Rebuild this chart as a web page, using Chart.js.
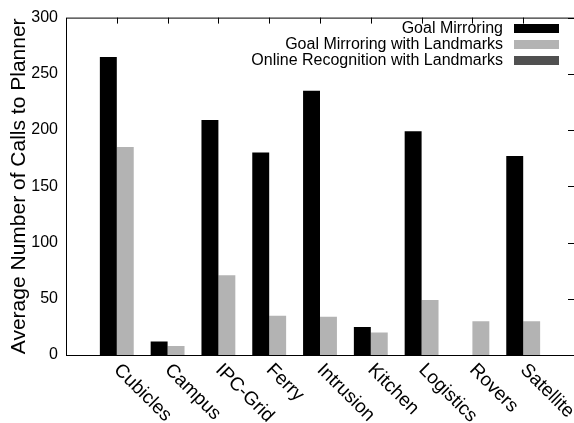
<!DOCTYPE html>
<html lang="en">
<head>
    <meta charset="UTF-8">
    <title>Average Number of Calls to Planner</title>
    <script src="https://cdn.jsdelivr.net/npm/chart.js"></script>
    <style>
        body {
            margin: 0;
            background-color: #fff;
        }
        #wrap {
            width: 574px;
            height: 423px;
        }
    </style>
</head>
<body>
    <div id="wrap"><canvas id="callsChart"></canvas></div>
    <script>
        // domains on the x axis
        const domains = ['Cubicles', 'Campus', 'IPC-Grid', 'Ferry', 'Intrusion', 'Kitchen', 'Logistics', 'Rovers', 'Satellite'];

        // average number of calls to the planner
        const goalMirroring = [265, 12, 209, 180, 235, 25, 199, 0, 177];
        const goalMirroringLandmarks = [185, 8, 71, 35, 34, 20, 49, 30, 30];
        const onlineRecognitionLandmarks = [0, 0, 0, 0, 0, 0, 0, 0, 0];

        const seriesNames = ['Goal Mirroring', 'Goal Mirroring with Landmarks', 'Online Recognition with Landmarks'];
        const seriesColors = ['#000000', '#b3b3b3', '#505050'];

        const yTicks = [0, 50, 100, 150, 200, 250, 300];

        // gnuplot puts the domain tic a sixth of a cluster left of its centre
        const ticShift = -1 / 6;

        const font = "'Liberation Sans', Arial, sans-serif";

        function toPoints(values) {
            return values.map((v, i) => ({ x: i, y: v }));
        }

        // frame, inner tics, rotated domain names and the legend, gnuplot style
        const gnuplotLook = {
            id: 'gnuplotLook',
            afterDraw(chart) {
                const ctx = chart.ctx;
                const area = chart.chartArea;
                const xs = chart.scales.x;
                const ys = chart.scales.y;

                ctx.save();
                ctx.strokeStyle = '#000';
                ctx.lineWidth = 1;
                ctx.strokeRect(area.left + 0.5, area.top + 0.5, area.right - area.left, area.bottom - area.top);

                ctx.beginPath();
                domains.forEach((d, i) => {
                    const px = Math.round(xs.getPixelForValue(i + ticShift)) + 0.5;
                    ctx.moveTo(px, area.top);
                    ctx.lineTo(px, area.top + 6);
                });
                yTicks.forEach(t => {
                    const py = Math.round(ys.getPixelForValue(t)) + 0.5;
                    ctx.moveTo(area.right, py);
                    ctx.lineTo(area.right - 6, py);
                });
                ctx.stroke();

                // domain names, turned 45 degrees clockwise
                ctx.fillStyle = '#000';
                ctx.font = '19px ' + font;
                ctx.textAlign = 'left';
                ctx.textBaseline = 'middle';
                domains.forEach((d, i) => {
                    const px = xs.getPixelForValue(i + ticShift);
                    ctx.save();
                    ctx.translate(px, area.bottom + 12);
                    ctx.rotate(Math.PI / 4);
                    ctx.fillText(d, 0, 0);
                    ctx.restore();
                });

                // legend in the upper right corner: text then sample
                ctx.font = '16px ' + font;
                ctx.textAlign = 'right';
                chart.data.datasets.forEach((ds, i) => {
                    const cy = 28.5 + i * 16;
                    ctx.fillStyle = '#000';
                    ctx.fillText(ds.label, 503, cy);
                    ctx.fillStyle = ds.backgroundColor;
                    ctx.fillRect(514, Math.round(cy - 4.5), 45, 9);
                });
                ctx.restore();
            }
        };

        const ctx = document.getElementById('callsChart').getContext('2d');
        new Chart(ctx, {
            type: 'bar',
            data: {
                datasets: [
                    { label: seriesNames[0], data: toPoints(goalMirroring), backgroundColor: seriesColors[0] },
                    { label: seriesNames[1], data: toPoints(goalMirroringLandmarks), backgroundColor: seriesColors[1] },
                    { label: seriesNames[2], data: toPoints(onlineRecognitionLandmarks), backgroundColor: seriesColors[2] }
                ]
            },
            options: {
                responsive: true,
                maintainAspectRatio: false,
                animation: false,
                layout: {
                    padding: { top: 14, right: -5, left: 0, bottom: 0 }
                },
                datasets: {
                    bar: {
                        categoryPercentage: 1.0,
                        barPercentage: 1.0,
                        borderWidth: 0,
                        inflateAmount: 0
                    }
                },
                plugins: {
                    legend: { display: false },
                    tooltip: { enabled: false }
                },
                scales: {
                    x: {
                        type: 'linear',
                        min: -7 / 6,
                        max: 53 / 6,
                        offset: false,
                        grid: { display: false, drawTicks: false },
                        border: { display: false },
                        ticks: { display: false },
                        afterFit: s => { s.height = 68; }
                    },
                    y: {
                        min: 0,
                        max: 300,
                        afterBuildTicks: s => { s.ticks = yTicks.map(v => ({ value: v })); },
                        afterFit: s => { s.width = 66; },
                        grid: { display: false, drawTicks: false },
                        border: { display: false },
                        ticks: {
                            color: '#000',
                            padding: 8,
                            font: { family: font, size: 16 }
                        },
                        title: {
                            display: true,
                            text: 'Average Number of Calls to Planner',
                            color: '#000',
                            padding: { top: 7, bottom: 0 },
                            font: { family: font, size: 21 }
                        }
                    }
                }
            },
            plugins: [gnuplotLook]
        });
    </script>
</body>
</html>
